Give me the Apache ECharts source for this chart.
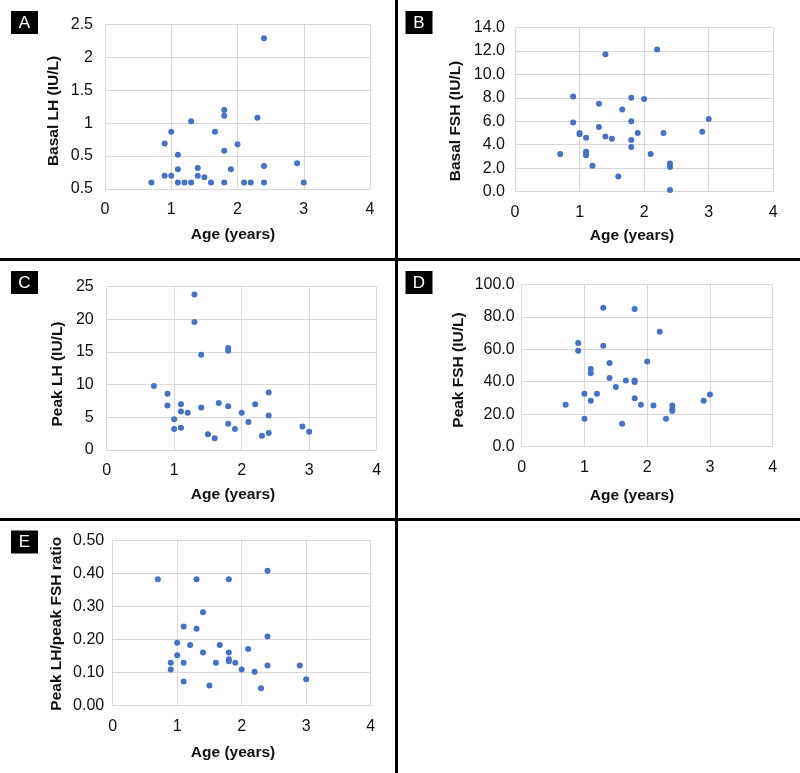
<!DOCTYPE html>
<html>
<head>
<meta charset="utf-8">
<script src="https://cdn.jsdelivr.net/npm/echarts@6/dist/echarts.min.js"></script>
<style>
html,body{margin:0;padding:0;background:#fff;}
#chart{width:800px;height:773px;}
</style>
</head>
<body>
<div id="chart"></div>
<script>
// Age (years) for each patient, grouped
const age = [0.7,0.9,0.9,1.0,1.0,1.1,1.1,1.1,1.2,1.3,1.3,1.4,1.4,1.5,1.6,1.66,1.8,1.8,1.8,1.8,1.9,2.0,2.1,2.2,2.3,2.4,2.4,2.4,2.9,3.0];
// Panel A: Basal LH (IU/L)
const basalLH = [0.10,0.20,0.69,0.20,0.87,0.10,0.30,0.52,0.10,0.10,1.03,0.32,0.20,0.18,0.10,0.87,0.10,0.58,1.11,1.20,0.30,0.68,0.10,0.10,1.08,0.10,0.35,2.29,0.39,0.10];
// Panel B: Basal FSH (IU/L)
const basalFSH = [3.2,8.1,5.9,5.0,4.9,4.6,3.4,3.1,2.2,7.5,5.5,11.7,4.7,4.5,1.3,7.0,8.0,6.0,4.4,3.8,5.0,7.9,3.2,12.1,5.0,2.4,2.1,0.15,5.1,6.2];
// Panel C: Peak LH (IU/L)
const peakLH = [9.8,8.6,6.8,4.7,3.2,7.0,5.9,3.4,5.7,23.8,19.6,14.6,6.5,2.4,1.8,7.2,15.6,15.2,6.7,4.0,3.2,5.7,4.3,7.0,2.2,8.8,5.3,2.6,3.6,2.8];
// Panel D: Peak FSH (IU/L)
const peakFSH = [25.9,63.9,59.1,32.6,17.2,47.8,45.2,28.3,32.6,85.6,62.2,51.5,42.3,36.8,14.2,40.7,84.8,40.7,39.8,29.8,25.9,52.4,25.3,70.8,17.2,25.3,23.0,22.0,28.3,32.2];
// Panel E: Peak LH / peak FSH ratio
const ratio = [0.383,0.130,0.110,0.191,0.153,0.240,0.130,0.073,0.184,0.383,0.233,0.283,0.161,0.061,0.130,0.184,0.383,0.161,0.141,0.135,0.130,0.110,0.172,0.103,0.053,0.409,0.210,0.122,0.122,0.080];

// Tick labels
const xTicks = ['0','1','2','3','4'];
const yTicksA = ['0.5','0.5','1','1.5','2','2.5'];
const yTicksB = ['0.0','2.0','4.0','6.0','8.0','10.0','12.0','14.0'];
const yTicksC = ['0','5','10','15','20','25'];
const yTicksD = ['0.0','20.0','40.0','60.0','80.0','100.0'];
const yTicksE = ['0.00','0.10','0.20','0.30','0.40','0.50'];

const panelLetters = ['A','B','C','D','E'];
const yTitles = ['Basal LH (IU/L)','Basal FSH (IU/L)','Peak LH (IU/L)','Peak FSH (IU/L)','Peak LH/peak FSH ratio'];
const xTitle = 'Age (years)';

const FONT = '"Liberation Sans", Arial, Helvetica, sans-serif';
const BLUE = '#4472C4';
const GRIDC = '#d9d9d9';

const panels = [
  {grid:{left:105,top:24.3,width:265,height:164.7}, max:2.5, interval:0.5, ticks:yTicksA, vals:basalLH, ym:12,
   box:[11,11], yt:[54,111], xt:[233,235]},
  {grid:{left:515,top:27.3,width:258.3,height:164.4}, max:14, interval:2, ticks:yTicksB, vals:basalFSH, ym:10,
   box:[405.5,11], yt:[455.5,121], xt:[632,235.5]},
  {grid:{left:106.7,top:286.7,width:270,height:163.3}, max:25, interval:5, ticks:yTicksC, vals:peakLH, ym:13,
   box:[11,271], yt:[57.3,374], xt:[233,495]},
  {grid:{left:521.7,top:284.3,width:251,height:162.4}, max:100, interval:20, ticks:yTicksD, vals:peakFSH, ym:7,
   box:[405.5,271], yt:[458.3,370], xt:[632,495.5]},
  {grid:{left:112.7,top:540.7,width:258,height:165}, max:0.5, interval:0.1, ticks:yTicksE, vals:ratio, ym:8.5,
   box:[11,530.5], yt:[57,623.7], xt:[233,752.5]}
];

const grids=[], xAxes=[], yAxes=[], series=[], graphic=[];
panels.forEach((p,i)=>{
  grids.push(Object.assign({containLabel:false}, p.grid));
  xAxes.push({
    type:'value', gridIndex:i, min:0, max:4, interval:1,
    axisLine:{show:false}, axisTick:{show:false},
    splitLine:{show:true, lineStyle:{color:GRIDC, width:1}},
    axisLabel:{color:'#111', fontFamily:FONT, fontSize:16, margin:13,
      formatter:(v,idx)=>xTicks[idx]}
  });
  const tk = p.ticks;
  yAxes.push({
    type:'value', gridIndex:i, min:0, max:p.max, interval:p.interval,
    axisLine:{show:false}, axisTick:{show:false},
    splitLine:{show:true, lineStyle:{color:GRIDC, width:1}},
    axisLabel:{color:'#111', fontFamily:FONT, fontSize:16, margin:p.ym,
      formatter:(v,idx)=>tk[idx]}
  });
  series.push({
    type:'scatter', xAxisIndex:i, yAxisIndex:i, symbol:'circle', symbolSize:6,
    itemStyle:{color:BLUE, opacity:1}, silent:true, animation:false,
    data: age.map((a,k)=>[a, p.vals[k]])
  });
  // panel letter box
  graphic.push({type:'rect', shape:{x:p.box[0], y:p.box[1], width:27, height:23}, style:{fill:'#000'}});
  graphic.push({type:'text', x:p.box[0]+13.5, y:p.box[1]+12, style:{text:panelLetters[i], fill:'#fff',
    font:'17px '+FONT, textAlign:'center', textVerticalAlign:'middle', align:'center', verticalAlign:'middle'}});
  // y title
  graphic.push({type:'text', x:p.yt[0], y:p.yt[1], rotation:Math.PI/2, style:{text:yTitles[i], fill:'#111',
    font:'bold 15.5px '+FONT, textAlign:'center', textVerticalAlign:'middle', align:'center', verticalAlign:'middle'}});
  // x title
  graphic.push({type:'text', x:p.xt[0], y:p.xt[1], style:{text:xTitle, fill:'#111',
    font:'bold 15.5px '+FONT, textAlign:'center', textVerticalAlign:'middle', align:'center', verticalAlign:'middle'}});
});
// panel dividers
graphic.push({type:'line', shape:{x1:396.5,y1:0,x2:396.5,y2:773}, style:{stroke:'#000', lineWidth:3}});
graphic.push({type:'line', shape:{x1:0,y1:259.5,x2:800,y2:259.5}, style:{stroke:'#000', lineWidth:3}});
graphic.push({type:'line', shape:{x1:0,y1:519.5,x2:800,y2:519.5}, style:{stroke:'#000', lineWidth:3}});

const chart = echarts.init(document.getElementById('chart'), null, {renderer:'canvas'});
chart.setOption({
  backgroundColor:'#fff',
  animation:false,
  grid:grids, xAxis:xAxes, yAxis:yAxes, series:series, graphic:graphic
});
</script>
</body>
</html>
